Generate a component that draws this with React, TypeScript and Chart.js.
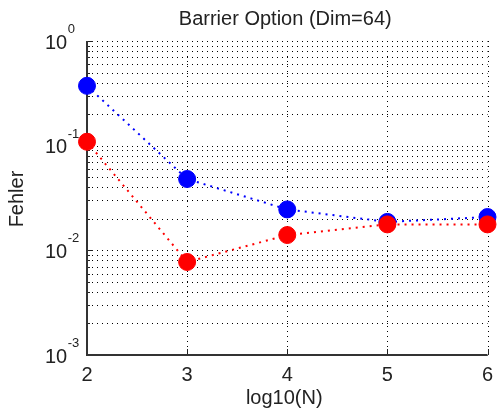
import { useEffect, useRef } from "react";
import { Chart, registerables } from "chart.js";

Chart.register(...registerables);

const chartTitle = "Barrier Option (Dim=64)";
const xAxisLabel = "log10(N)";
const yAxisLabel = "Fehler";

const logN = [2, 3, 4, 5, 6];
const blueErrors = [0.373, 0.048, 0.0246, 0.0187, 0.0208];
const redErrors = [0.109, 0.00774, 0.014, 0.0177, 0.0177];

const xTickValues = [2, 3, 4, 5, 6];
const yExponents = [0, -1, -2, -3];
const minorMultipliers = [2, 3, 4, 5, 6, 7, 8, 9];

const FONT = '"Liberation Sans", Arial, Helvetica, sans-serif';
const TEXT_COLOR = "#222";

// MATLAB-style axes: dotted grid, inward ticks, left/bottom axis lines, 10^n labels
const matlabAxes = {
  id: "matlabAxes",
  beforeDatasetsDraw(chart: any) {
    const { ctx, chartArea: a, scales } = chart;
    const xs = scales.x;
    const ys = scales.y;

    const majorY = yExponents.map((e) => Math.pow(10, e));
    const minorY: number[] = [];
    yExponents.forEach((e) => {
      if (e < 0) minorMultipliers.forEach((m) => minorY.push(m * Math.pow(10, e)));
    });

    const px = (v: number) => Math.round(v) + 0.5;

    ctx.save();
    ctx.strokeStyle = "#000";
    ctx.lineWidth = 1;
    ctx.setLineDash([1, 4]);
    [...majorY, ...minorY].forEach((v) => {
      const y = px(ys.getPixelForValue(v));
      ctx.beginPath();
      ctx.moveTo(a.left, y);
      ctx.lineTo(a.right, y);
      ctx.stroke();
    });
    xTickValues.forEach((v) => {
      const x = px(xs.getPixelForValue(v));
      ctx.beginPath();
      ctx.moveTo(x, a.top);
      ctx.lineTo(x, a.bottom);
      ctx.stroke();
    });

    // inward tick marks
    ctx.setLineDash([]);
    ctx.strokeStyle = "#222";
    majorY.forEach((v) => {
      const y = px(ys.getPixelForValue(v));
      ctx.beginPath();
      ctx.moveTo(a.left, y);
      ctx.lineTo(a.left + 6, y);
      ctx.stroke();
    });
    minorY.forEach((v) => {
      const y = px(ys.getPixelForValue(v));
      ctx.beginPath();
      ctx.moveTo(a.left, y);
      ctx.lineTo(a.left + 3, y);
      ctx.stroke();
    });
    xTickValues.forEach((v) => {
      const x = px(xs.getPixelForValue(v));
      ctx.beginPath();
      ctx.moveTo(x, a.bottom);
      ctx.lineTo(x, a.bottom - 6);
      ctx.stroke();
    });

    // axis lines
    ctx.strokeStyle = "#333";
    ctx.lineWidth = 2;
    ctx.beginPath();
    ctx.moveTo(a.left, a.top);
    ctx.lineTo(a.left, a.bottom);
    ctx.lineTo(a.right, a.bottom);
    ctx.stroke();
    ctx.restore();
  },
  afterDraw(chart: any) {
    const { ctx, chartArea: a, scales } = chart;
    const xs = scales.x;
    const ys = scales.y;
    ctx.save();
    ctx.fillStyle = TEXT_COLOR;

    // x tick labels
    ctx.font = `20px ${FONT}`;
    ctx.textAlign = "center";
    ctx.textBaseline = "alphabetic";
    xTickValues.forEach((v) => {
      ctx.fillText(String(v), xs.getPixelForValue(v), a.bottom + 26);
    });

    // y tick labels as 10 with superscript exponent
    yExponents.forEach((e) => {
      const y = ys.getPixelForValue(Math.pow(10, e));
      ctx.font = `20px ${FONT}`;
      ctx.textAlign = "left";
      ctx.fillText("10", 45, y + 7.5);
      const w = ctx.measureText("10").width;
      ctx.font = `13px ${FONT}`;
      ctx.fillText(String(e), 45 + w + 0.5, y - 8);
    });

    // title
    ctx.font = `20px ${FONT}`;
    ctx.textAlign = "center";
    ctx.fillText(chartTitle, (a.left + a.right) / 2 - 2, 25);

    // x axis label
    ctx.fillText(xAxisLabel, (a.left + a.right) / 2 - 3, 404);

    // y axis label
    ctx.save();
    ctx.translate(23, (a.top + a.bottom) / 2 + 1);
    ctx.rotate(-Math.PI / 2);
    ctx.fillText(yAxisLabel, 0, 0);
    ctx.restore();

    ctx.restore();
  },
};

export default function App() {
  const canvasRef = useRef<HTMLCanvasElement | null>(null);

  useEffect(() => {
    const canvas = canvasRef.current;
    if (!canvas) return;

    const chart = new Chart(canvas, {
      type: "line",
      data: {
        datasets: [
          {
            label: "red",
            data: logN.map((x, i) => ({ x, y: redErrors[i] })),
            borderColor: "rgb(255,0,0)",
            backgroundColor: "rgb(255,0,0)",
            borderWidth: 2,
            borderDash: [2, 5],
            pointRadius: 8.5,
            pointBorderWidth: 1,
            pointBackgroundColor: "rgb(255,0,0)",
            pointBorderColor: "rgb(255,0,0)",
            tension: 0,
            clip: false,
            order: 0,
          },
          {
            label: "blue",
            data: logN.map((x, i) => ({ x, y: blueErrors[i] })),
            borderColor: "rgb(0,0,255)",
            backgroundColor: "rgb(0,0,255)",
            borderWidth: 2,
            borderDash: [2, 5],
            pointRadius: 8.5,
            pointBorderWidth: 1,
            pointBackgroundColor: "rgb(0,0,255)",
            pointBorderColor: "rgb(0,0,255)",
            tension: 0,
            clip: false,
            order: 1,
          },
        ],
      },
      options: {
        responsive: false,
        devicePixelRatio: 1,
        animation: false,
        events: [],
        layout: { padding: { left: 87, right: 8, top: 41, bottom: 62 } },
        plugins: {
          legend: { display: false },
          tooltip: { enabled: false },
          title: { display: false },
        },
        scales: {
          x: {
            type: "linear",
            min: 2,
            max: 6,
            ticks: { display: false },
            grid: { display: false, drawTicks: false },
            border: { display: false },
            afterFit: (s: any) => {
              s.height = 0;
            },
          },
          y: {
            type: "logarithmic",
            min: 0.001,
            max: 1,
            ticks: { display: false },
            grid: { display: false, drawTicks: false },
            border: { display: false },
            afterFit: (s: any) => {
              s.width = 0;
            },
          },
        },
      },
      plugins: [matlabAxes],
    });

    return () => chart.destroy();
  }, []);

  return (
    <div style={{ position: "fixed", left: 0, top: 0, width: 497, height: 417, background: "#fff" }}>
      <canvas ref={canvasRef} width={497} height={417} style={{ display: "block" }} />
    </div>
  );
}
